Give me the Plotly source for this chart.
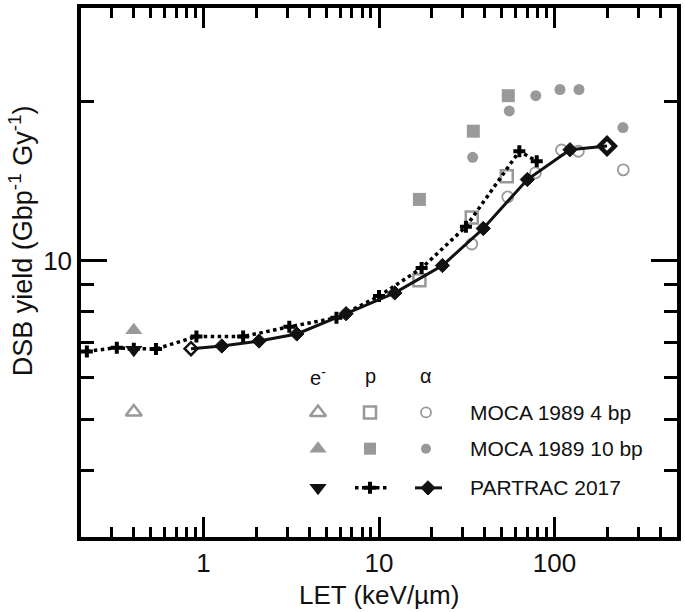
import plotly.graph_objects as go

# ---------------- data ----------------
# PARTRAC 2017, protons (dotted line with crosses)
p_partrac_let = [0.216, 0.32, 0.40, 0.535, 0.91, 1.68, 3.08, 5.72, 10.0, 17.5, 31.3, 63.1, 79.3]
p_partrac_dsb = [6.73, 6.84, 6.81, 6.80, 7.18, 7.18, 7.49, 7.79, 8.56, 9.67, 11.58, 16.08, 15.40]

# PARTRAC 2017, alpha (solid line with diamonds)
a_partrac_let = [0.848, 1.27, 2.07, 3.40, 6.49, 12.3, 23.0, 39.3, 70.1, 122.7, 199.5]
a_partrac_dsb = [6.81, 6.89, 7.04, 7.26, 7.93, 8.68, 9.78, 11.49, 14.22, 16.19, 16.45]

# PARTRAC 2017, electrons
e_partrac_let = [0.40]
e_partrac_dsb = [6.78]

# MOCA 1989 4 bp
e_moca4_let = [0.40]
e_moca4_dsb = [5.17]
p_moca4_let = [17.0, 33.8, 53.5]
p_moca4_dsb = [9.17, 12.05, 14.43]
a_moca4_let = [33.8, 54.2, 78.0, 109.8, 136.9, 247.0]
a_moca4_dsb = [10.74, 13.18, 14.64, 16.17, 16.08, 14.83]

# MOCA 1989 10 bp
e_moca10_let = [0.40]
e_moca10_dsb = [7.38]
p_moca10_let = [17.0, 34.5, 54.6]
p_moca10_dsb = [13.04, 17.55, 20.48]
a_moca10_let = [34.2, 55.3, 78.3, 107.6, 138.1, 246.0]
a_moca10_dsb = [15.66, 19.17, 20.48, 21.04, 21.04, 17.83]

x_major = [1, 10, 100]
x_minor = [0.2, 0.3, 0.4, 0.5, 0.6, 0.7, 0.8, 0.9, 2, 3, 4, 5, 6, 7, 8, 9,
           20, 30, 40, 50, 60, 70, 80, 90, 200, 300, 400]
y_major = [10]
y_minor = [4, 5, 6, 7, 8, 9, 20]

legend_headers = ["e<sup>-</sup>", "p", "α"]
legend_labels = ["MOCA 1989 4 bp", "MOCA 1989 10 bp", "PARTRAC 2017"]

# ---------------- styling ----------------
GREY = "#999999"
DARK = "#111111"
FONT = "Liberation Sans, Arial, sans-serif"

W, H = 685, 612
L, R, T, B = 81, 8, 4, 75
PW, PH = W - L - R, H - T - B


def px(xp):
    return (xp - L) / PW


def py(yp):
    return (H - B - yp) / PH


fig = go.Figure()

# MOCA 4 bp (open grey)
fig.add_trace(go.Scatter(x=e_moca4_let, y=e_moca4_dsb, mode="markers",
                         marker=dict(symbol="triangle-up-open", size=14, color=GREY, line=dict(width=2.5))))
fig.add_trace(go.Scatter(x=p_moca4_let, y=p_moca4_dsb, mode="markers",
                         marker=dict(symbol="square-open", size=12, color=GREY, line=dict(width=2.5))))
fig.add_trace(go.Scatter(x=a_moca4_let, y=a_moca4_dsb, mode="markers",
                         marker=dict(symbol="circle-open", size=11, color=GREY, line=dict(width=1.8))))
# MOCA 10 bp (filled grey)
fig.add_trace(go.Scatter(x=e_moca10_let, y=e_moca10_dsb, mode="markers",
                         marker=dict(symbol="triangle-up", size=15, color=GREY)))
fig.add_trace(go.Scatter(x=p_moca10_let, y=p_moca10_dsb, mode="markers",
                         marker=dict(symbol="square", size=13, color=GREY)))
fig.add_trace(go.Scatter(x=a_moca10_let, y=a_moca10_dsb, mode="markers",
                         marker=dict(symbol="circle", size=11, color=GREY)))
# PARTRAC 2017
fig.add_trace(go.Scatter(x=p_partrac_let, y=p_partrac_dsb, mode="lines+markers",
                         line=dict(color="#000000", width=3.5, dash="dot"),
                         marker=dict(symbol="cross", size=10, color="#000000", opacity=1)))
a_symbols = ["diamond-open"] + ["diamond"] * (len(a_partrac_let) - 2) + ["diamond-open"]
a_sizes = [10] + [11] * (len(a_partrac_let) - 2) + [12]
a_lw = [2.5] + [1] * (len(a_partrac_let) - 2) + [4.5]
fig.add_trace(go.Scatter(x=a_partrac_let, y=a_partrac_dsb, mode="lines+markers",
                         line=dict(color=DARK, width=3),
                         marker=dict(symbol=a_symbols, size=a_sizes, color=DARK, opacity=1,
                                     line=dict(width=a_lw, color=DARK))))
fig.add_trace(go.Scatter(x=e_partrac_let, y=e_partrac_dsb, mode="markers",
                         marker=dict(symbol="triangle-down", size=15, color=DARK)))

# ---------------- legend drawn as a grid on an overlay axis ----------------
col_x = [318, 370, 426]
row_y = [411.5, 448, 487.5]
hdr_y = 375
lx = [px(v) for v in col_x]
ly = [py(v) for v in row_y]

fig.add_trace(go.Scatter(x=[lx[0]], y=[ly[0]], xaxis="x2", yaxis="y2", mode="markers",
                         marker=dict(symbol="triangle-up-open", size=14, color=GREY, line=dict(width=2.5))))
fig.add_trace(go.Scatter(x=[lx[1]], y=[ly[0]], xaxis="x2", yaxis="y2", mode="markers",
                         marker=dict(symbol="square-open", size=12, color=GREY, line=dict(width=2.5))))
fig.add_trace(go.Scatter(x=[lx[2]], y=[ly[0]], xaxis="x2", yaxis="y2", mode="markers",
                         marker=dict(symbol="circle-open", size=10, color=GREY, line=dict(width=1.8))))
fig.add_trace(go.Scatter(x=[lx[0]], y=[ly[1]], xaxis="x2", yaxis="y2", mode="markers",
                         marker=dict(symbol="triangle-up", size=15, color=GREY)))
fig.add_trace(go.Scatter(x=[lx[1]], y=[ly[1]], xaxis="x2", yaxis="y2", mode="markers",
                         marker=dict(symbol="square", size=12, color=GREY)))
fig.add_trace(go.Scatter(x=[lx[2]], y=[ly[1]], xaxis="x2", yaxis="y2", mode="markers",
                         marker=dict(symbol="circle", size=10, color=GREY)))
fig.add_trace(go.Scatter(x=[lx[0]], y=[ly[2]], xaxis="x2", yaxis="y2", mode="markers",
                         marker=dict(symbol="triangle-down", size=15, color=DARK)))
fig.add_trace(go.Scatter(x=[px(355), px(387)], y=[ly[2], ly[2]], xaxis="x2", yaxis="y2", mode="lines",
                         line=dict(color="#000000", width=3.5, dash="dot")))
fig.add_trace(go.Scatter(x=[lx[1]], y=[ly[2]], xaxis="x2", yaxis="y2", mode="markers",
                         marker=dict(symbol="cross", size=10, color="#000000")))
fig.add_trace(go.Scatter(x=[px(415), px(442)], y=[ly[2], ly[2]], xaxis="x2", yaxis="y2", mode="lines",
                         line=dict(color=DARK, width=3)))
fig.add_trace(go.Scatter(x=[px(428)], y=[ly[2]], xaxis="x2", yaxis="y2", mode="markers",
                         marker=dict(symbol="diamond", size=11, color=DARK, line=dict(width=1, color=DARK))))

annotations = []
for cx, txt in zip(col_x, legend_headers):
    annotations.append(dict(x=px(cx), y=py(hdr_y), xref="paper", yref="paper", text=txt,
                            showarrow=False, xanchor="center", yanchor="middle",
                            font=dict(size=20, color=DARK, family=FONT)))
for ry, txt in zip(row_y, legend_labels):
    annotations.append(dict(x=px(468), y=py(ry), xref="paper", yref="paper", text=txt,
                            showarrow=False, xanchor="left", yanchor="middle",
                            font=dict(size=21, color=DARK, family=FONT)))
# axis titles
annotations.append(dict(x=px(379), y=py(595), xref="paper", yref="paper", text="LET (keV/µm)",
                        showarrow=False, xanchor="center", yanchor="middle",
                        font=dict(size=26, color="#111111", family=FONT)))
annotations.append(dict(x=px(21), y=py(239), xref="paper", yref="paper",
                        text="DSB yield (Gbp<sup>-1</sup> Gy<sup>-1</sup>)", textangle=-90,
                        showarrow=False, xanchor="center", yanchor="middle",
                        font=dict(size=27, color="#111111", family=FONT)))

axis_common = dict(showgrid=False, zeroline=False, showline=True, linecolor="#000000",
                   linewidth=3.5, mirror="allticks", ticks="inside", tickcolor="#000000",
                   tickwidth=2.5, tickfont=dict(size=26, color="#111111", family=FONT))

fig.update_layout(
    width=W, height=H,
    margin=dict(l=L, r=R, t=T, b=B),
    paper_bgcolor="white", plot_bgcolor="white",
    showlegend=False,
    font=dict(family=FONT),
    annotations=annotations,
    xaxis=dict(type="log", range=[-0.69897, 2.69897], tickmode="array",
               tickvals=x_major, ticktext=[str(v) for v in x_major], ticklen=20,
               minor=dict(tickmode="array", tickvals=x_minor, ticks="inside", ticklen=10,
                          tickwidth=2.5, tickcolor="#000000", showgrid=False),
               **axis_common),
    yaxis=dict(type="log", range=[0.47712, 1.47712], tickmode="array",
               tickvals=y_major, ticktext=[str(v) for v in y_major], ticklen=26,
               minor=dict(tickmode="array", tickvals=y_minor, ticks="inside", ticklen=13,
                          tickwidth=2.5, tickcolor="#000000", showgrid=False),
               **axis_common),
    xaxis2=dict(overlaying="x", range=[0, 1], visible=False, fixedrange=True),
    yaxis2=dict(overlaying="y", range=[0, 1], visible=False, fixedrange=True),
)

fig.write_html("out.html", config={"displayModeBar": False},
               post_script="document.body.style.margin='0';document.body.style.padding='0';")
